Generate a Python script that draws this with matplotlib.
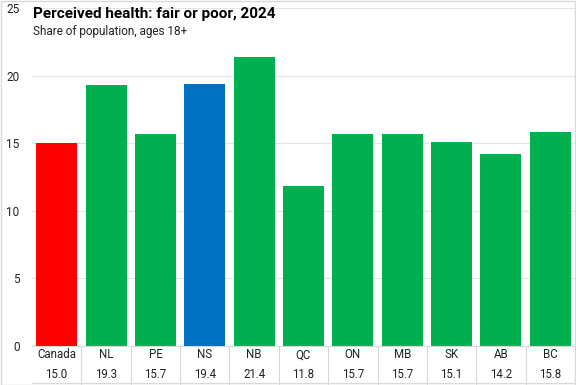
import matplotlib.pyplot as plt
import numpy as np

regions = ["Canada", "NL", "PE", "NS", "NB", "QC", "ON", "MB", "SK", "AB", "BC"]
values = [15.0, 19.3, 15.7, 19.4, 21.4, 11.8, 15.7, 15.7, 15.1, 14.2, 15.8]
value_labels = ["15.0", "19.3", "15.7", "19.4", "21.4", "11.8", "15.7", "15.7", "15.1", "14.2", "15.8"]
bar_colors = ["#FF0000", "#00B050", "#00B050", "#0070C0", "#00B050", "#00B050",
              "#00B050", "#00B050", "#00B050", "#00B050", "#00B050"]

plt.rcParams["font.family"] = ["Roboto", "DejaVu Sans"]

fig = plt.figure(figsize=(5.76, 3.85), dpi=100)
ax = fig.add_axes([32 / 576, 1 - 346 / 385, 543 / 576, 338 / 385])

x = np.arange(len(regions))
ax.bar(x, values, width=0.83, color=bar_colors, zorder=2)

ax.set_xlim(-0.5, len(regions) - 0.5)
ax.set_ylim(0, 25)
ax.set_yticks([0, 5, 10, 15, 20, 25])
ax.tick_params(axis="y", length=0, labelsize=8.5, pad=9, labelcolor="#222222")
ax.set_xticks([])
ax.grid(axis="y", color="#E4E4E4", linewidth=0.8, zorder=0)
for side in ["top", "right", "left"]:
    ax.spines[side].set_visible(False)
ax.spines["bottom"].set_color("#D9D9D9")

# data table below the axis
trans = ax.get_xaxis_transform()
for i, (name, lab) in enumerate(zip(regions, value_labels)):
    ax.text(i, -9 / 338, name, transform=trans, ha="center", va="center",
            fontsize=8.3, color="#222222", clip_on=False)
    ax.text(i, -28 / 338, lab, transform=trans, ha="center", va="center",
            fontsize=8.3, color="#222222", clip_on=False)
for b in np.arange(0.5, len(regions) - 0.5, 1.0):
    ax.plot([b, b], [0, -39 / 338], transform=trans, color="#D9D9D9",
            linewidth=0.8, clip_on=False)
ax.plot([-0.5, len(regions) - 0.5], [-37 / 338, -37 / 338], transform=trans,
        color="#D9D9D9", linewidth=0.8, clip_on=False)

fig.text(33 / 576, 1 - 14 / 385, "Perceived health: fair or poor, 2024",
         fontsize=11, fontweight="bold", ha="left", va="center")
fig.text(33 / 576, 1 - 32 / 385, "Share of population, ages 18+",
         fontsize=8.5, ha="left", va="center", color="#222222")

fig.patches.append(plt.Rectangle((0.001, 0.001), 0.998, 0.997, transform=fig.transFigure,
                                 fill=False, edgecolor="#D9D9D9", linewidth=1))

fig.savefig("out.png", dpi=100)
